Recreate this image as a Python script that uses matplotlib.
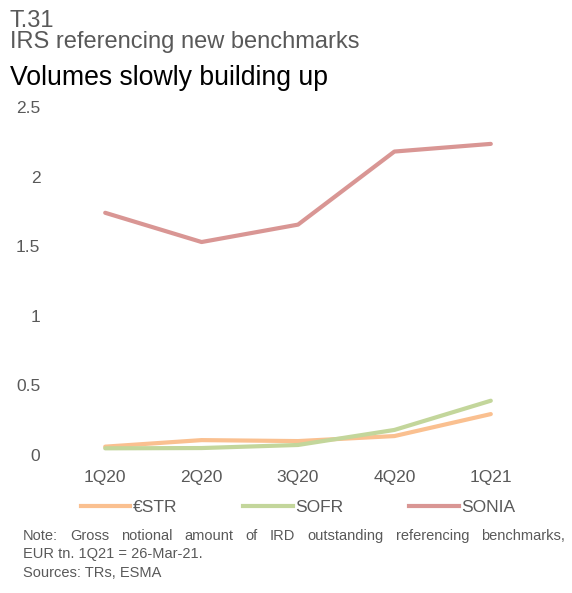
import matplotlib
matplotlib.use("Agg")
import matplotlib.pyplot as plt
from matplotlib.lines import Line2D

plt.rcParams['font.family'] = ['Liberation Sans', 'DejaVu Sans']

quarters = ["1Q20", "2Q20", "3Q20", "4Q20", "1Q21"]
estr = [0.06, 0.107, 0.10, 0.136, 0.294]
sofr = [0.048, 0.05, 0.072, 0.18, 0.39]
sonia = [1.74, 1.53, 1.655, 2.18, 2.235]
series_names = ["€STR", "SOFR", "SONIA"]
series_colors = ["#fac090", "#c3d69b", "#d99694"]
yticks = [0, 0.5, 1, 1.5, 2, 2.5]
ytick_labels = ["0", "0.5", "1", "1.5", "2", "2.5"]

grey = "#595959"
W, H = 572, 593

fig = plt.figure(figsize=(W / 100, H / 100), dpi=100)
ax = fig.add_axes([57 / W, 138 / H, 482 / W, 348 / H])

x = list(range(len(quarters)))
for vals, name, col in zip([estr, sofr, sonia], series_names, series_colors):
    ax.plot(x, vals, color=col, lw=3.0, solid_capstyle='round', label=name)

ax.set_xlim(-0.5, len(quarters) - 0.5)
ax.set_ylim(0, 2.5)
ax.set_xticks(x)
ax.set_xticklabels(quarters)
ax.set_yticks(yticks)
ax.set_yticklabels(ytick_labels)
ax.tick_params(axis='both', length=0, labelsize=12.5, labelcolor=grey)
ax.tick_params(axis='y', pad=12)
ax.tick_params(axis='x', pad=10.5)
for s in ax.spines.values():
    s.set_visible(False)

# legend
handles = [Line2D([0], [0], color=c, lw=3.0) for c in series_colors]
leg = fig.legend(handles, series_names, loc='center', bbox_to_anchor=(298 / W, 1 - 507 / H),
                 ncol=3, frameon=False, fontsize=12.5, handlelength=2.85, handletextpad=0.15,
                 columnspacing=3.8, labelcolor=grey)

# titles
fig.text(10 / W, 1 - 27 / H, "T.31", fontsize=17, color=grey, va='baseline', ha='left')
fig.text(10 / W, 1 - 48 / H, "IRS referencing new benchmarks", fontsize=17, color=grey,
         va='baseline', ha='left')
fig.text(10 / W, 1 - 85 / H, "Volumes slowly building up", fontsize=19.2, color='black',
         va='baseline', ha='left')

# note, first line justified across the width
fig.canvas.draw()
renderer = fig.canvas.get_renderer()
note_words = "Note: Gross notional amount of IRD outstanding referencing benchmarks,".split()
left_px, right_px = 23, 565
widths = []
for w in note_words:
    t = fig.text(0, 0, w, fontsize=10.5, color=grey)
    widths.append(t.get_window_extent(renderer).width)
    t.remove()
gap = (right_px - left_px - sum(widths)) / (len(note_words) - 1)
xp = left_px
for w, wd in zip(note_words, widths):
    fig.text(xp / W, 1 - 540 / H, w, fontsize=10.5, color=grey, va='baseline', ha='left')
    xp += wd + gap
fig.text(left_px / W, 1 - 558 / H, "EUR tn. 1Q21 = 26-Mar-21.", fontsize=10.5, color=grey,
         va='baseline', ha='left')
fig.text(left_px / W, 1 - 577 / H, "Sources: TRs, ESMA", fontsize=10.5, color=grey,
         va='baseline', ha='left')

fig.savefig("out.png", dpi=100)
